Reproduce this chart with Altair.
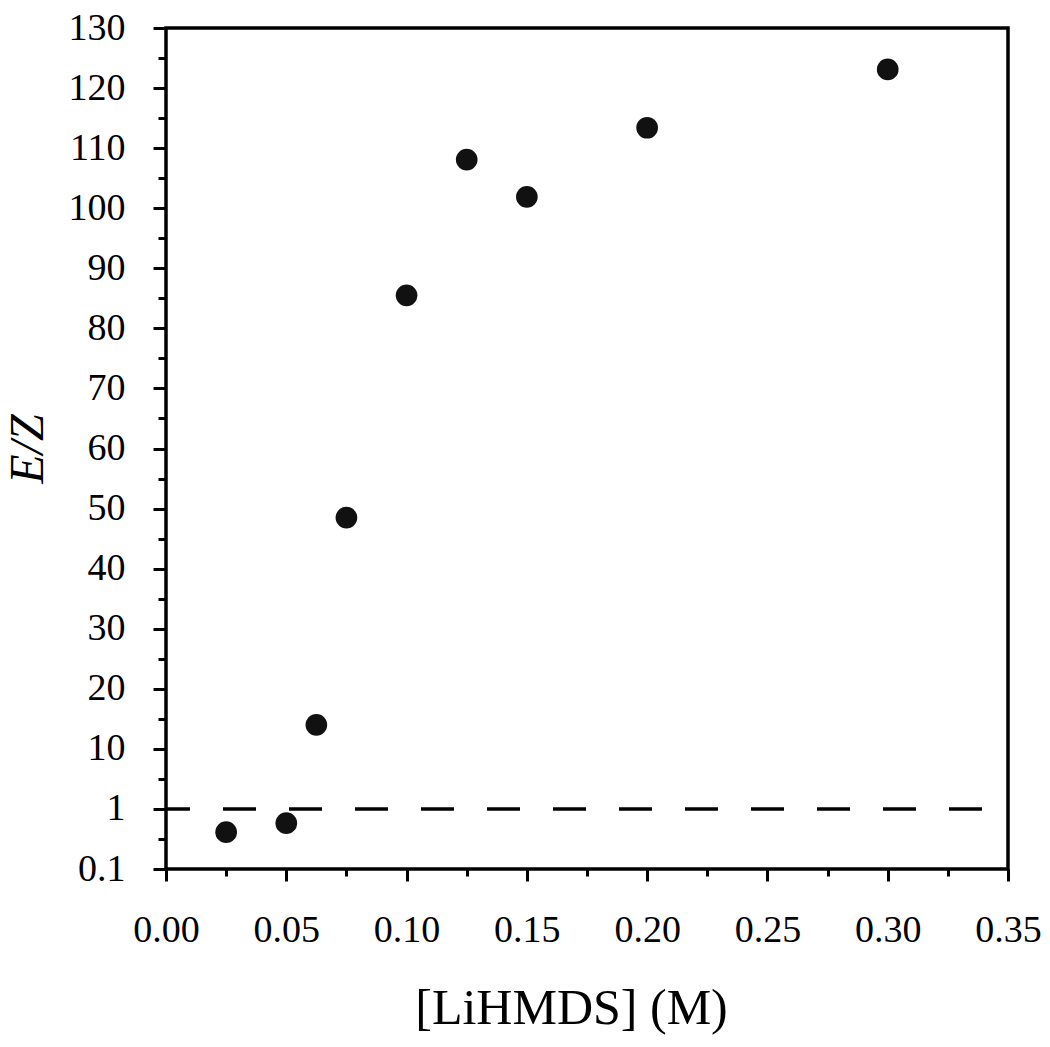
import altair as alt
import pandas as pd

# Data
conc = [0.025, 0.05, 0.0625, 0.075, 0.10, 0.125, 0.15, 0.20, 0.30]
ez = [0.41, 0.58, 14.0, 48.5, 85.5, 108.1, 101.9, 113.4, 123.1]
y_tick_labels = ["0.1", "1", "10", "20", "30", "40", "50", "60", "70",
                 "80", "90", "100", "110", "120", "130"]
x_major = [0.0, 0.05, 0.10, 0.15, 0.20, 0.25, 0.30, 0.35]
x_minor = [0.025, 0.075, 0.125, 0.175, 0.225, 0.275, 0.325]
ref_ez = [1.0]

df = pd.DataFrame({"conc": conc, "ez": ez})
ref = pd.DataFrame({"ez": ref_ez})

pos_expr = "datum.ez < 10 ? log(datum.ez) / LN10 + 1 : datum.ez / 10 + 1"
y_major = list(range(len(y_tick_labels)))
y_minor = [i + 0.5 for i in range(len(y_tick_labels) - 1)]
label_expr = "[" + ",".join(f"'{s}'" for s in y_tick_labels) + "][datum.value]"

FONT = "Liberation Serif"
xscale = alt.Scale(domain=[0, 0.35], nice=False, zero=False)
yscale = alt.Scale(domain=[0, 14], nice=False, zero=False)

common_axis = dict(domain=False, grid=False, tickColor="black", tickWidth=3,
                   labelFont=FONT, labelColor="black", titleFont=FONT,
                   titleColor="black", labelFlush=False, labelOverlap=False)

points = alt.Chart(df).transform_calculate(pos=pos_expr).mark_circle(
    size=470, color="#111111", opacity=1
).encode(
    x=alt.X("conc:Q", scale=xscale,
            axis=alt.Axis(orient="bottom", values=x_major, format=".2f",
                          tickSize=12, labelFontSize=38, labelPadding=30,
                          title="[LiHMDS] (M)", titleFontSize=50,
                          titleFontWeight="normal", titlePadding=34,
                          titleX=405, titleAlign="center",
                          **common_axis)),
    y=alt.Y("pos:Q", scale=yscale,
            axis=alt.Axis(orient="left", values=y_major, labelExpr=label_expr,
                          tickSize=13, labelFontSize=38, labelPadding=28,
                          title="E/Z", titleFontSize=48, titleFontStyle="italic",
                          titleFontWeight="normal", titlePadding=16,
                          **common_axis)),
)

minor = alt.Chart(df).transform_calculate(pos=pos_expr).mark_circle(opacity=0).encode(
    x=alt.X("conc:Q", scale=xscale,
            axis=alt.Axis(orient="bottom", values=x_minor, tickSize=7,
                          labels=False, title=None, domain=False, grid=False,
                          tickColor="black", tickWidth=3)),
    y=alt.Y("pos:Q", scale=yscale,
            axis=alt.Axis(orient="left", values=y_minor, tickSize=8,
                          labels=False, title=None, domain=False, grid=False,
                          tickColor="black", tickWidth=3)),
)

rule = alt.Chart(ref).transform_calculate(pos=pos_expr).mark_rule(
    color="black", strokeWidth=3.5, strokeDash=[33, 33], strokeDashOffset=40
).encode(y=alt.Y("pos:Q", scale=yscale, axis=None))

chart = alt.layer(rule, points, minor).resolve_axis(
    x="independent", y="independent"
).properties(
    width=842, height=841,
    background="white",
    autosize=alt.AutoSizeParams(type="none"),
    padding={"left": 158, "top": 20, "right": 34, "bottom": 169},
).configure_view(stroke="black", strokeWidth=3.5)

chart.save("out.html", embed_options={"renderer": "svg", "actions": False})
